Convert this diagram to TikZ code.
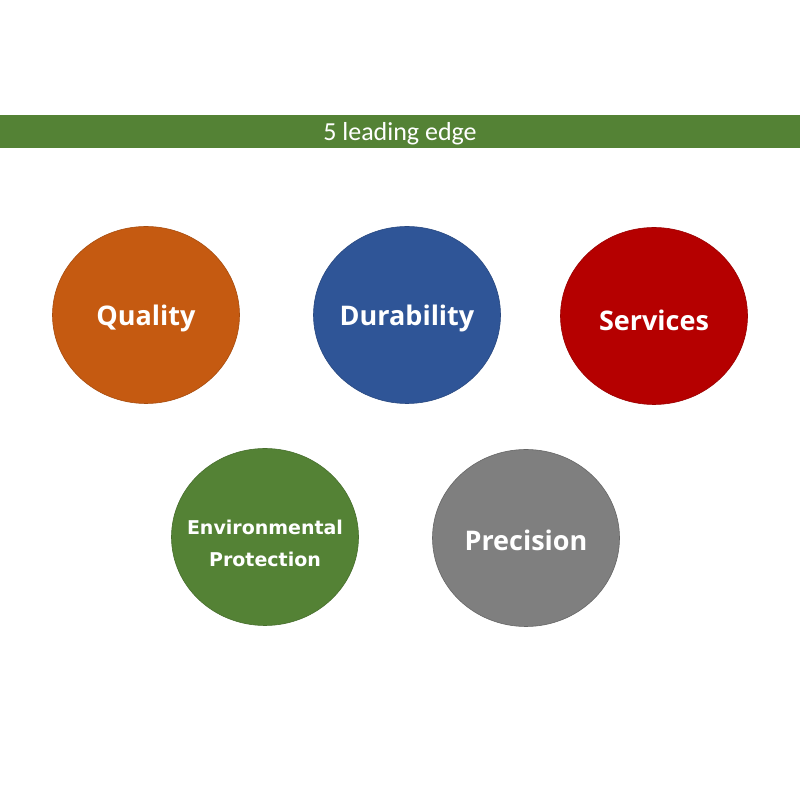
\documentclass[tikz,border=0pt]{standalone}
\usepackage{fontspec}
\usetikzlibrary{shapes.geometric}
\setmainfont{Carlito}
\newfontfamily\circfont{Open Sans}
\newfontfamily\heavyfont{DejaVu Sans}
\definecolor{bannergreen}{HTML}{548235}
\definecolor{qorange}{HTML}{C55A11}
\definecolor{dblue}{HTML}{2F5597}
\definecolor{sred}{HTML}{B50000}
\definecolor{egreen}{HTML}{548235}
\definecolor{pgray}{HTML}{7F7F7F}
\begin{document}
\begin{tikzpicture}[x=1pt,y=1pt,
  circ/.style={ellipse, minimum width=187pt, minimum height=177pt, inner sep=0pt, line width=0.6pt},
  lbl/.style={text=white, inner sep=0pt, font=\circfont\bfseries\fontsize{27}{30}\selectfont},
]
\useasboundingbox (0,0) rectangle (800,800);
\fill[white] (0,0) rectangle (800,800);
\node[fill=bannergreen, minimum width=800pt, minimum height=33pt, inner sep=0pt] (banner) at (400,668.5) {};
\node[text=white, inner sep=0pt, font=\fontsize{26}{28}\selectfont] (bannertext) at ([yshift=-2pt]banner.center) {5 leading edge};
\node[circ, fill=qorange, draw=qorange!85!black] (quality) at (146,485) {};
\node[lbl] (qualityt) at ([yshift=-3pt]quality.center) {Quality};
\node[circ, fill=dblue, draw=dblue!85!black] (durability) at (407,485) {};
\node[lbl] (durabilityt) at ([yshift=-3pt]durability.center) {Durability};
\node[circ, fill=sred, draw=sred!85!black] (services) at (654,484) {};
\node[lbl] (servicest) at ([yshift=-4pt]services.center) {Services};
\node[circ, fill=egreen, draw=egreen!85!black] (env) at (265,263) {};
\node[lbl, align=center, font=\heavyfont\bfseries\fontsize{19}{32}\selectfont] (envt) at ([yshift=-6pt]env.center) {Environmental\\ Protection};
\node[circ, fill=pgray, draw=pgray!80!black] (precision) at (526,262) {};
\node[lbl] (precisiont) at ([yshift=-2pt]precision.center) {Precision};
\end{tikzpicture}
\end{document}
